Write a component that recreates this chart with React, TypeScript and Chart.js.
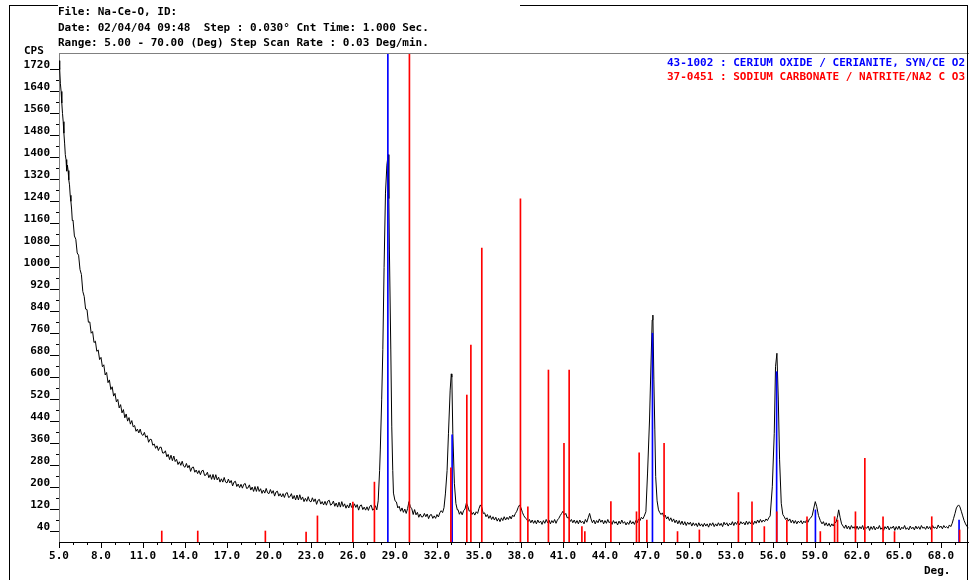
import React, { useEffect, useRef } from 'react';
import { Chart, registerables } from 'chart.js';
Chart.register(...registerables);

// Diffraction scan: 2-theta (deg) and intensity (CPS)
const scanDeg = [
  5.00, 5.05, 5.10, 5.15, 5.20, 5.25, 5.30, 5.35, 5.40, 5.45,
  5.50, 5.55, 5.60, 5.65, 5.70, 5.75, 5.80, 5.85, 5.90, 5.95,
  6.0, 6.1, 6.2, 6.3, 6.4, 6.5, 6.6, 6.7, 6.8, 6.9,
  7.0, 7.1, 7.2, 7.3, 7.4, 7.5, 7.6, 7.7, 7.8, 7.9,
  8.0, 8.1, 8.2, 8.3, 8.4, 8.5, 8.6, 8.7, 8.8, 8.9,
  9.0, 9.1, 9.2, 9.3, 9.4, 9.5, 9.6, 9.7, 9.8, 9.9,
  10.0, 10.1, 10.2, 10.3, 10.4, 10.5, 10.6, 10.7, 10.8, 10.9,
  11.0, 11.1, 11.2, 11.3, 11.4, 11.5, 11.6, 11.7, 11.8, 11.9,
  12.0, 12.1, 12.2, 12.3, 12.4, 12.5, 12.6, 12.7, 12.8, 12.9,
  13.0, 13.1, 13.2, 13.3, 13.4, 13.5, 13.6, 13.7, 13.8, 13.9,
  14.0, 14.1, 14.2, 14.3, 14.4, 14.5, 14.6, 14.7, 14.8, 14.9,
  15.0, 15.1, 15.2, 15.3, 15.4, 15.5, 15.6, 15.7, 15.8, 15.9,
  16.0, 16.1, 16.2, 16.3, 16.4, 16.5, 16.6, 16.7, 16.8, 16.9,
  17.0, 17.1, 17.2, 17.3, 17.4, 17.5, 17.6, 17.7, 17.8, 17.9,
  18.0, 18.1, 18.2, 18.3, 18.4, 18.5, 18.6, 18.7, 18.8, 18.9,
  19.0, 19.1, 19.2, 19.3, 19.4, 19.5, 19.6, 19.7, 19.8, 19.9,
  20.0, 20.1, 20.2, 20.3, 20.4, 20.5, 20.6, 20.7, 20.8, 20.9,
  21.0, 21.1, 21.2, 21.3, 21.4, 21.5, 21.6, 21.7, 21.8, 21.9,
  22.0, 22.1, 22.2, 22.3, 22.4, 22.5, 22.6, 22.7, 22.8, 22.9,
  23.0, 23.1, 23.2, 23.3, 23.4, 23.5, 23.6, 23.7, 23.8, 23.9,
  24.0, 24.1, 24.2, 24.3, 24.4, 24.5, 24.6, 24.7, 24.8, 24.9,
  25.0, 25.1, 25.2, 25.3, 25.4, 25.5, 25.6, 25.7, 25.8, 25.9,
  26.0, 26.1, 26.2, 26.3, 26.4, 26.5, 26.6, 26.7, 26.8, 26.9,
  27.0, 27.1, 27.2, 27.3, 27.4, 27.5, 27.6, 27.7,
  27.80, 27.90, 27.95, 28.05, 28.13, 28.22, 28.32, 28.42, 28.51, 28.56, 28.60, 28.70, 28.77, 28.84, 28.89, 29.00,
  29.1, 29.2, 29.3, 29.4, 29.5, 29.6, 29.7, 29.8, 29.9,
  30.0, 30.1, 30.2, 30.3, 30.4, 30.5, 30.6, 30.7, 30.8, 30.9,
  31.0, 31.1, 31.2, 31.3, 31.4, 31.5, 31.6, 31.7, 31.8, 31.9,
  32.0, 32.1, 32.2, 32.3, 32.4, 32.5,
  32.6, 32.72, 32.82, 32.94, 33.02, 33.06, 33.13, 33.24, 33.35, 33.45,
  33.5, 33.6, 33.7, 33.8, 33.9,
  34.0, 34.1, 34.2, 34.3, 34.4, 34.5, 34.6, 34.7, 34.8, 34.9,
  35.0, 35.1, 35.2, 35.3, 35.4, 35.5, 35.6, 35.7, 35.8, 35.9,
  36.0, 36.1, 36.2, 36.3, 36.4, 36.5, 36.6, 36.7, 36.8, 36.9,
  37.0, 37.1, 37.2, 37.3, 37.4, 37.5, 37.6, 37.7, 37.8, 37.9,
  38.0, 38.1, 38.2, 38.3, 38.4, 38.5, 38.6, 38.7, 38.8, 38.9,
  39.0, 39.1, 39.2, 39.3, 39.4, 39.5, 39.6, 39.7, 39.8, 39.9,
  40.0, 40.1, 40.2, 40.3, 40.4, 40.5, 40.6, 40.7, 40.8, 40.9,
  41.0, 41.1, 41.2, 41.3, 41.4, 41.5, 41.6, 41.7, 41.8, 41.9,
  42.0, 42.1, 42.2, 42.3, 42.4, 42.5, 42.6, 42.7, 42.8, 42.9,
  43.0, 43.1, 43.2, 43.3, 43.4, 43.5, 43.6, 43.7, 43.8, 43.9,
  44.0, 44.1, 44.2, 44.3, 44.4, 44.5, 44.6, 44.7, 44.8, 44.9,
  45.0, 45.1, 45.2, 45.3, 45.4, 45.5, 45.6, 45.7, 45.8, 45.9,
  46.0, 46.1, 46.2, 46.3, 46.4, 46.5, 46.6, 46.7, 46.8, 46.92,
  47.04, 47.18, 47.28, 47.37, 47.42, 47.49, 47.56, 47.62, 47.72, 47.82,
  47.9, 48.0, 48.1, 48.2, 48.3, 48.4, 48.5, 48.6, 48.7, 48.8, 48.9,
  49.0, 49.1, 49.2, 49.3, 49.4, 49.5, 49.6, 49.7, 49.8, 49.9,
  50.0, 50.1, 50.2, 50.3, 50.4, 50.5, 50.6, 50.7, 50.8, 50.9,
  51.0, 51.1, 51.2, 51.3, 51.4, 51.5, 51.6, 51.7, 51.8, 51.9,
  52.0, 52.1, 52.2, 52.3, 52.4, 52.5, 52.6, 52.7, 52.8, 52.9,
  53.0, 53.1, 53.2, 53.3, 53.4, 53.5, 53.6, 53.7, 53.8, 53.9,
  54.0, 54.1, 54.2, 54.3, 54.4, 54.5, 54.6, 54.7, 54.8, 54.9,
  55.0, 55.1, 55.2, 55.3, 55.4, 55.5, 55.6, 55.7,
  55.8, 55.95, 56.09, 56.18, 56.28, 56.38, 56.47, 56.59, 56.7,
  56.8, 56.9, 57.0, 57.1, 57.2, 57.3, 57.4, 57.5, 57.6, 57.7, 57.8, 57.9,
  58.0, 58.1, 58.2, 58.3, 58.4, 58.5, 58.6, 58.7,
  58.8, 58.9, 59.02, 59.12, 59.25, 59.38,
  59.5, 59.6, 59.7, 59.8, 59.9,
  60.0, 60.1, 60.2, 60.3, 60.4, 60.5,
  60.6, 60.69, 60.8, 60.9,
  61.0, 61.1, 61.2, 61.3, 61.4, 61.5, 61.6, 61.7, 61.8, 61.9,
  62.0, 62.1, 62.2, 62.3, 62.4, 62.5, 62.6, 62.7, 62.8, 62.9,
  63.0, 63.1, 63.2, 63.3, 63.4, 63.5, 63.6, 63.7, 63.8, 63.9,
  64.0, 64.1, 64.2, 64.3, 64.4, 64.5, 64.6, 64.7, 64.8, 64.9,
  65.0, 65.1, 65.2, 65.3, 65.4, 65.5, 65.6, 65.7, 65.8, 65.9,
  66.0, 66.1, 66.2, 66.3, 66.4, 66.5, 66.6, 66.7, 66.8, 66.9,
  67.0, 67.1, 67.2, 67.3, 67.4, 67.5, 67.6, 67.7, 67.8, 67.9,
  68.0, 68.1, 68.2, 68.3, 68.4, 68.5, 68.6, 68.7, 68.8,
  68.9, 69.0, 69.1, 69.2, 69.26, 69.35, 69.45, 69.55, 69.65, 69.75, 69.86, 69.95,
];
const scanCps = [
  1752, 1720, 1668, 1640, 1598, 1560, 1530, 1488, 1452, 1410,
  1392, 1350, 1372, 1352, 1318, 1300, 1262, 1240, 1212, 1170,
  1172, 1114, 1102, 1052, 1044, 992, 974, 912, 894, 848,
  846, 800, 801, 760, 766, 726, 731, 694, 699, 664,
  672, 638, 645, 608, 617, 580, 590, 555, 565, 531,
  541, 510, 519, 488, 500, 470, 482, 452, 466, 440,
  453, 429, 442, 419, 424, 403, 411, 397, 411, 392,
  388, 399, 381, 387, 363, 374, 373, 352, 357, 341,
  350, 333, 345, 345, 324, 324, 332, 310, 319, 300,
  316, 296, 313, 293, 301, 282, 292, 279, 294, 276,
  272, 286, 270, 279, 257, 271, 273, 254, 262, 249,
  260, 245, 259, 261, 242, 244, 254, 234, 245, 228,
  246, 227, 245, 226, 236, 218, 230, 218, 235, 218,
  215, 229, 215, 224, 204, 218, 221, 202, 211, 198,
  210, 196, 210, 213, 195, 197, 208, 189, 200, 184,
  202, 184, 202, 184, 194, 177, 189, 178, 195, 179,
  176, 191, 177, 187, 167, 182, 185, 167, 176, 164,
  176, 162, 177, 180, 162, 165, 176, 157, 169, 153,
  171, 153, 172, 154, 164, 147, 159, 148, 165, 149,
  146, 161, 147, 157, 137, 152, 155, 138, 147, 135,
  148, 134, 149, 152, 134, 138, 149, 130, 142, 127,
  145, 127, 147, 129, 139, 123, 135, 124, 142, 126,
  124, 139, 126, 136, 116, 132, 135, 118, 127, 116,
  128, 115, 130, 134, 116, 120, 132, 117,
  150, 260, 335, 520, 700, 1000, 1270, 1372, 1410, 1250, 1063, 699, 419, 260, 178, 150,
  146, 124, 130, 112, 124, 108, 120, 104, 122,
  147, 128, 121, 100, 118, 99, 108, 90, 102, 91,
  92, 104, 92, 102, 85, 98, 100, 86, 95, 86,
  100, 91, 106, 114, 107, 125,
  175, 260, 396, 553, 612, 600, 396, 214, 140, 117,
  118, 101, 111, 99, 114,
  120, 142, 130, 112, 116, 100, 108, 98, 110, 104,
  122, 135, 126, 104, 106, 92, 100, 86, 96, 82,
  92, 80, 90, 76, 86, 74, 88, 78, 92, 80,
  90, 82, 94, 84, 98, 92, 104, 112, 126, 135,
  124, 108, 96, 88, 84, 74, 82, 70, 80, 68,
  78, 66, 80, 70, 76, 64, 78, 68, 82, 70,
  80, 66, 78, 70, 82, 68, 80, 86, 96, 104,
  112, 98, 104, 88, 90, 74, 82, 70, 80, 68,
  78, 66, 80, 70, 76, 66, 82, 72, 88, 104,
  84, 70, 80, 66, 78, 70, 84, 72, 80, 66,
  78, 68, 82, 70, 76, 64, 78, 68, 74, 62,
  76, 66, 80, 68, 74, 62, 72, 64, 78, 66,
  74, 64, 78, 70, 84, 78, 90, 84, 94, 110,
  251, 444, 637, 808, 826, 590, 408, 238, 150, 117,
  108, 100, 106, 92, 98, 84, 92, 78, 88, 74, 84,
  70, 80, 66, 78, 64, 76, 62, 74, 60, 72,
  64, 72, 58, 70, 60, 68, 56, 70, 58, 66,
  56, 68, 58, 66, 54, 68, 60, 70, 56, 66,
  58, 70, 60, 68, 56, 72, 62, 70, 58, 68,
  62, 74, 60, 72, 64, 76, 62, 74, 66, 72,
  62, 76, 64, 74, 66, 78, 64, 76, 68, 80,
  70, 82, 72, 80, 74, 84, 78, 88,
  95, 201, 396, 638, 687, 517, 299, 141, 100,
  92, 82, 88, 76, 84, 70, 80, 68, 78, 66, 76, 70,
  78, 66, 76, 70, 80, 72, 84, 88,
  96, 120, 147, 130, 96, 78,
  66, 74, 60, 70, 58,
  68, 56, 66, 58, 70, 72,
  90, 117, 88, 66,
  58, 50, 62, 48, 58, 46, 60, 50, 56, 44,
  58, 46, 56, 48, 60, 44, 54, 50, 58, 42,
  56, 46, 58, 44, 54, 48, 60, 46, 52, 42,
  56, 48, 58, 44, 54, 50, 58, 42, 56, 46,
  58, 44, 54, 48, 60, 46, 52, 44, 58, 48,
  54, 44, 58, 48, 56, 46, 60, 50, 54, 46,
  58, 48, 56, 44, 60, 50, 54, 48, 62, 52,
  58, 48, 60, 52, 56, 50, 62, 56, 68,
  86, 104, 124, 132, 135, 128, 112, 95, 78, 66, 56, 52,
];

// 43-1002 : CERIUM OXIDE / CERIANITE (reference sticks)
const ceriumDeg = [28.49, 33.08, 47.39, 56.26, 59.03, 69.29];
const ceriumCps = [1780, 390, 760, 620, 117, 80];

// 37-0451 : SODIUM CARBONATE / NATRITE (reference sticks)
const natriteDeg = [
  12.34, 14.91, 19.74, 22.65, 23.46, 25.99, 27.53, 30.03, 32.99, 34.13,
  34.42, 35.20, 37.96, 38.49, 39.96, 41.07, 41.44, 42.35, 42.56, 44.42,
  46.25, 46.44, 46.99, 48.22, 49.18, 50.74, 53.53, 54.50, 55.38, 56.27,
  56.99, 58.43, 59.38, 60.40, 60.61, 61.89, 62.56, 63.86, 64.68, 67.34,
  69.33,
];
const natriteCps = [
  40, 40, 40, 36, 95, 145, 218, 1780, 270, 535,
  717, 1070, 1249, 128, 626, 359, 626, 56, 38, 147,
  110, 325, 80, 359, 38, 44, 180, 146, 56, 110,
  80, 92, 38, 92, 80, 110, 305, 92, 38, 92,
  44,
];

const headerLines = [
  'File: Na-Ce-O, ID:',
  'Date: 02/04/04 09:48  Step : 0.030\u00b0 Cnt Time: 1.000 Sec.',
  'Range: 5.00 - 70.00 (Deg) Step Scan Rate : 0.03 Deg/min.',
];
const legendCerium = '43-1002 : CERIUM OXIDE / CERIANITE, SYN/CE O2';
const legendNatrite = '37-0451 : SODIUM CARBONATE / NATRITE/NA2 C O3';

const X_MIN = 5;
const X_MAX = 70;
const Y_MIN = 0;
const Y_MAX = 1780;

const FONT = '"DejaVu Sans Mono", "Liberation Mono", monospace';

const tickMarks = {
  id: 'tickMarks',
  afterDraw(chart: any) {
    const ctx = chart.ctx;
    const xs = chart.scales.x;
    const ys = chart.scales.y;
    const area = chart.chartArea;
    ctx.save();
    ctx.strokeStyle = '#000';
    ctx.lineWidth = 1;
    ctx.beginPath();
    for (const t of xs.ticks) {
      const px = Math.round(xs.getPixelForValue(t.value)) + 0.5;
      const len = Math.abs((t.value - 5) % 3) < 1e-6 ? 6 : 3;
      ctx.moveTo(px, area.bottom);
      ctx.lineTo(px, area.bottom + len);
    }
    for (const t of ys.ticks) {
      if (t.value % 40 !== 0 || t.value === 0) continue;
      const py = Math.round(ys.getPixelForValue(t.value)) + 0.5;
      const len = t.value % 80 === 40 ? 9 : 3;
      ctx.moveTo(area.left - len, py);
      ctx.lineTo(area.left, py);
    }
    ctx.stroke();
    ctx.strokeStyle = '#808080';
    ctx.beginPath();
    ctx.moveTo(area.left, area.top + 0.5);
    ctx.lineTo(area.right, area.top + 0.5);
    ctx.stroke();
    ctx.restore();
  },
};

export default function App() {
  const canvasRef = useRef<HTMLCanvasElement | null>(null);

  useEffect(() => {
    if (!canvasRef.current) return;
    const chart = new Chart(canvasRef.current, {
      type: 'line',
      data: {
        datasets: [
          {
            type: 'bar',
            label: 'natrite',
            data: natriteDeg.map((d, i) => ({ x: d, y: natriteCps[i] })),
            backgroundColor: '#ff0000',
            borderWidth: 0,
            barThickness: 1,
            grouped: false,
            order: 0,
            clip: 0,
          } as any,
          {
            type: 'bar',
            label: 'cerianite',
            data: ceriumDeg.map((d, i) => ({ x: d, y: ceriumCps[i] })),
            backgroundColor: '#0000ff',
            borderWidth: 0,
            barThickness: 1,
            grouped: false,
            order: 1,
            clip: 0,
          } as any,
          {
            type: 'line',
            label: 'scan',
            data: scanDeg.map((d, i) => ({ x: d, y: scanCps[i] })),
            borderColor: '#000000',
            borderWidth: 1,
            pointRadius: 0,
            tension: 0,
            fill: false,
            order: 2,
            clip: 0,
          } as any,
        ],
      },
      options: {
        animation: false,
        responsive: false,
        devicePixelRatio: 1,
        layout: { padding: { top: 53, left: 0, right: 0, bottom: 0 } },
        plugins: { legend: { display: false }, tooltip: { enabled: false }, title: { display: false } },
        scales: {
          x: {
            type: 'linear',
            min: X_MIN,
            max: X_MAX,
            offset: false,
            grid: { display: false, drawTicks: false },
            border: { display: true, color: '#000000', width: 1 },
            ticks: {
              stepSize: 1,
              autoSkip: false,
              maxRotation: 0,
              minRotation: 0,
              padding: 8,
              color: '#000000',
              font: { family: FONT, size: 11, weight: 'bold' },
              callback: (v: any) => (Math.abs((Number(v) - 5) % 3) < 1e-6 ? Number(v).toFixed(1) : ''),
            },
            afterFit: (s: any) => {
              s.height = 38;
              s.paddingLeft = 0;
              s.paddingRight = 0;
            },
          },
          y: {
            type: 'linear',
            min: Y_MIN,
            max: Y_MAX,
            grid: { display: false, drawTicks: false },
            border: { display: true, color: '#808080', width: 1 },
            ticks: {
              stepSize: 40,
              autoSkip: false,
              padding: 9,
              labelOffset: -4,
              color: '#000000',
              font: { family: FONT, size: 11, weight: 'bold' },
              callback: (v: any) => (Number(v) % 80 === 40 ? String(v) : ''),
            },
            afterFit: (s: any) => {
              s.width = 59;
            },
          },
        },
      } as any,
      plugins: [tickMarks],
    });
    return () => chart.destroy();
  }, []);

  const textBase: React.CSSProperties = {
    position: 'absolute',
    fontFamily: FONT,
    fontWeight: 'bold',
    fontSize: 11,
    lineHeight: '13px',
    whiteSpace: 'pre',
    color: '#000',
  };

  return (
    <div style={{ position: 'fixed', left: 0, top: 0, width: 969, height: 580, background: '#fff', overflow: 'hidden' }}>
      <canvas ref={canvasRef} width={969} height={580} style={{ position: 'absolute', left: 0, top: 0 }} />
      <div style={{ position: 'absolute', left: 9, top: 5, width: 1, height: 575, background: '#000' }} />
      <div style={{ position: 'absolute', left: 9, top: 5, width: 49, height: 1, background: '#000' }} />
      <div style={{ position: 'absolute', left: 520, top: 5, width: 448, height: 1, background: '#000' }} />
      <div style={{ position: 'absolute', left: 967, top: 5, width: 1, height: 575, background: '#000' }} />
      {headerLines.map((t, i) => (
        <div key={i} style={{ ...textBase, left: 58, top: 5 + i * 15.5 }}>{t}</div>
      ))}
      <div style={{ ...textBase, left: 24, top: 44 }}>CPS</div>
      <div style={{ ...textBase, right: 4, top: 56, color: '#0000ff' }}>{legendCerium}</div>
      <div style={{ ...textBase, right: 4, top: 70, color: '#ff0000' }}>{legendNatrite}</div>
      <div style={{ ...textBase, left: 924, top: 564 }}>Deg.</div>
    </div>
  );
}
